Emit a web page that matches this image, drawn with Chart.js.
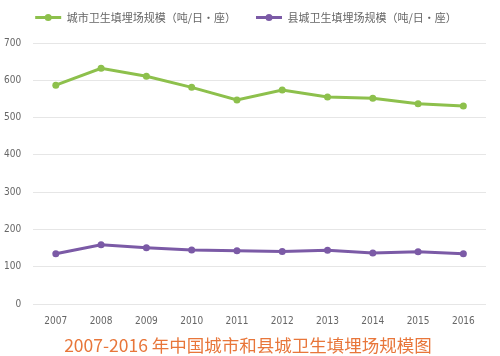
<!DOCTYPE html>
<html><head><meta charset="utf-8">
<script src="https://cdn.jsdelivr.net/npm/chart.js@4/dist/chart.umd.min.js"></script>
<style>html,body{margin:0;padding:0;background:#fff}#w{width:500px;height:356px}</style>
</head><body><div id="w"><canvas id="c"></canvas></div>
<script>
const years = ['2007','2008','2009','2010','2011','2012','2013','2014','2015','2016'];
const cityScale = [587, 632, 611, 581, 547, 574, 555, 552, 537, 531];
const countyScale = [135, 159, 151, 145, 143, 141, 144, 137, 140, 135];
const seriesNames = ['城市卫生填埋场规模（吨/日·座）', '县城卫生填埋场规模（吨/日·座）'];
const chartTitle = '2007-2016 年中国城市和县城卫生填埋场规模图';
const green = '#8dc04c', purple = '#7b5aa6';
const FONT = "'Noto Sans CJK SC', 'Noto Sans', sans-serif";
const TICK_FONT = "'Liberation Sans Narrow', 'DejaVu Sans Condensed', 'Noto Sans', sans-serif";
const MARK_W = 26;
const LEG_SHIFT = 7;

const tweaks = {
  id: 'tweaks',
  beforeUpdate(chart) {
    const lg = chart.legend;
    if (lg && !lg._patched) {
      const f = lg.fit.bind(lg);
      lg.fit = function () { f(); this.height += 10; };
      lg._patched = true;
    }
  },
  beforeDraw(chart) {
    const t = chart.titleBlock;
    if (t) { t.left = 0; t.right = 496; }
    const lg = chart.legend;
    if (lg && lg._baseLeft === undefined) {
      lg._baseLeft = lg.left; lg._baseRight = lg.right;
    }
    if (lg) { lg.left = lg._baseLeft + LEG_SHIFT; lg.right = lg._baseRight + LEG_SHIFT; }
  },
  afterDraw(chart) {
    const lg = chart.legend; if (!lg || !lg.legendHitBoxes) return;
    const ctx = chart.ctx;
    lg.legendHitBoxes.forEach((b, i) => {
      const ds = chart.data.datasets[i];
      ctx.save();
      ctx.fillStyle = ds.borderColor;
      ctx.beginPath();
      ctx.arc(b.left + LEG_SHIFT + MARK_W / 2, b.top + b.height / 2, 3.5, 0, Math.PI * 2);
      ctx.fill();
      ctx.restore();
    });
  }
};

new Chart(document.getElementById('c'), {
  type: 'line',
  data: {
    labels: years,
    datasets: [
      { label: seriesNames[0], data: cityScale, borderColor: green, backgroundColor: green,
        borderWidth: 3, pointRadius: 3.5, pointBackgroundColor: green, pointBorderWidth: 0, tension: 0 },
      { label: seriesNames[1], data: countyScale, borderColor: purple, backgroundColor: purple,
        borderWidth: 3, pointRadius: 3.5, pointBackgroundColor: purple, pointBorderWidth: 0, tension: 0 }
    ]
  },
  options: {
    responsive: true, maintainAspectRatio: false, animation: false,
    layout: { padding: { left: -8, right: 14, top: -8, bottom: 0 } },
    plugins: {
      legend: {
        position: 'top',
        labels: {
          usePointStyle: true, pointStyle: 'line', pointStyleWidth: MARK_W,
          color: '#666', font: { family: FONT, size: 11 }, padding: 20,
          generateLabels(chart) {
            return chart.data.datasets.map((ds, i) => ({
              text: ds.label, strokeStyle: ds.borderColor, fillStyle: ds.borderColor,
              lineWidth: 3, pointStyle: 'line', datasetIndex: i, fontColor: '#666'
            }));
          }
        }
      },
      title: {
        display: true, text: chartTitle, position: 'bottom', color: '#e8763a',
        font: { family: FONT, size: 17.5, weight: 'normal' }, padding: { top: 5, bottom: 0 }
      },
      tooltip: { enabled: false }
    },
    scales: {
      x: {
        offset: true,
        grid: { display: false }, border: { display: false },
        ticks: { color: '#666', font: { family: TICK_FONT, size: 10 }, padding: 3 }
      },
      y: {
        min: 0, max: 700,
        ticks: { stepSize: 100, color: '#666', font: { family: TICK_FONT, size: 10 }, padding: 12 },
        grid: { color: '#e6e6e6', drawTicks: false }, border: { display: false }
      }
    }
  },
  plugins: [tweaks]
});
</script></body></html>
